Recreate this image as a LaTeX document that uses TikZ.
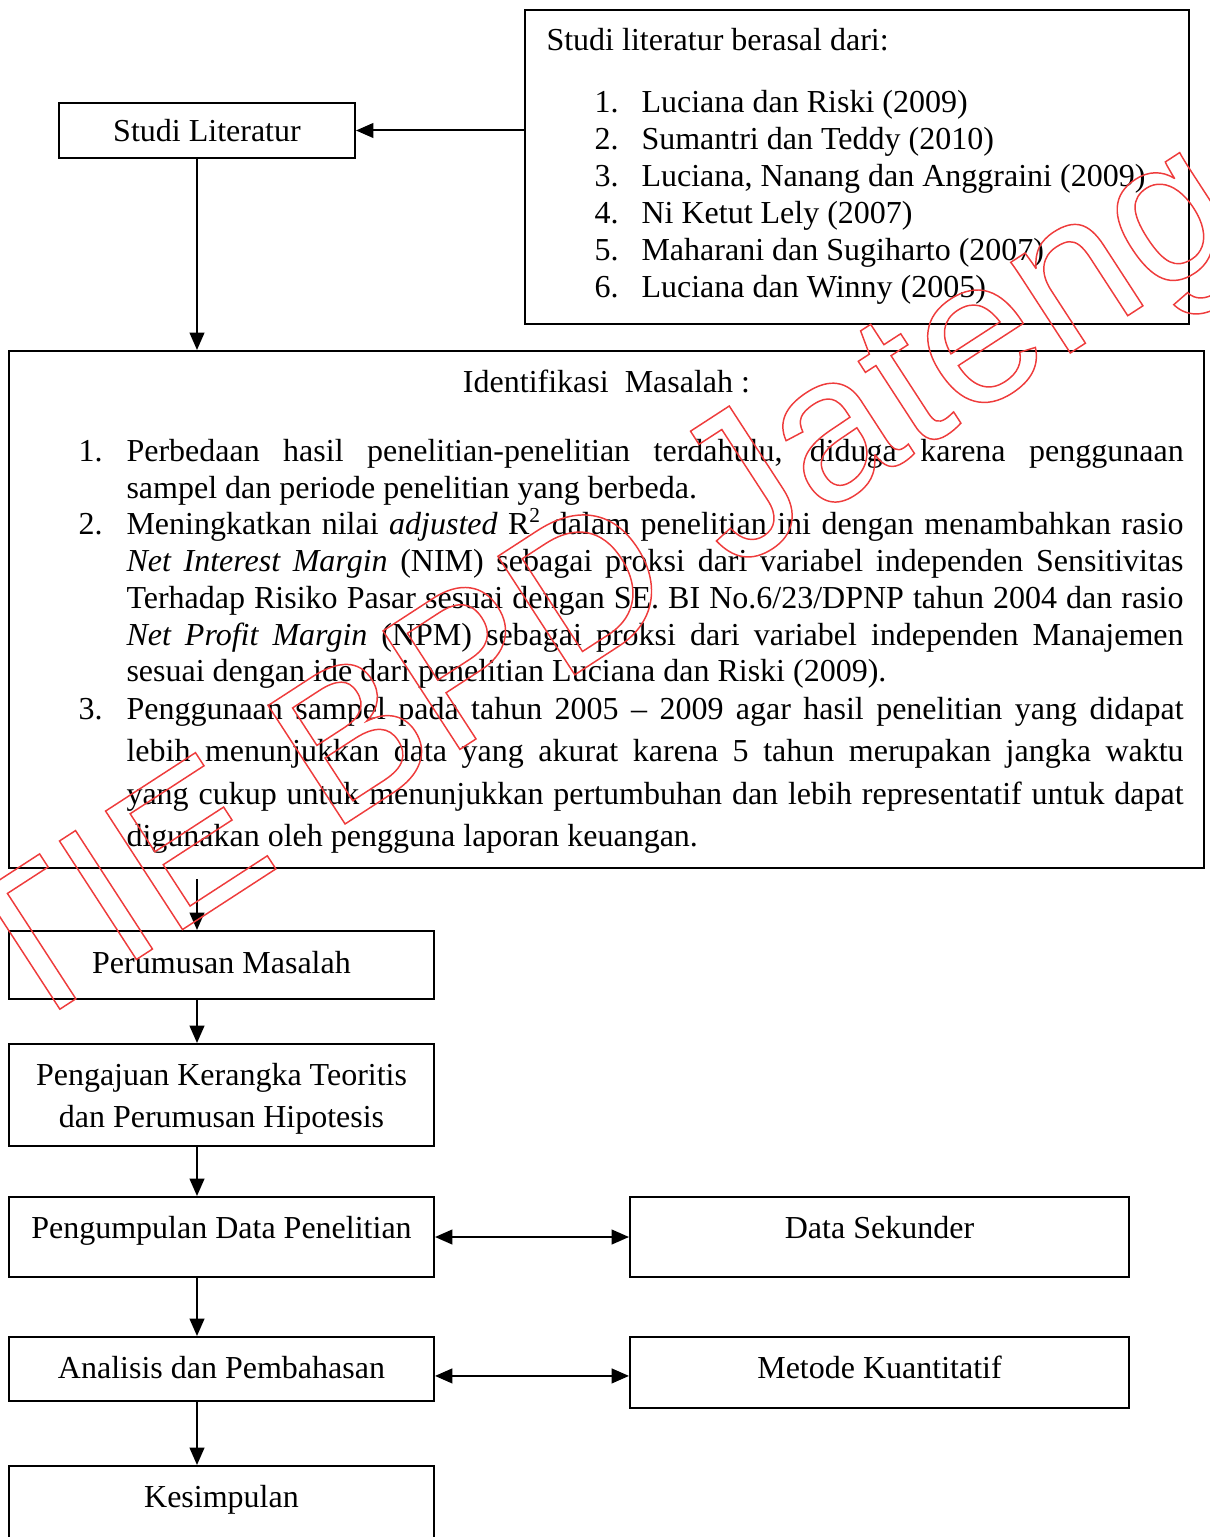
\documentclass[tikz,border=0pt]{standalone}
\usepackage{fontspec}
\setmainfont{Liberation Serif}
\newfontfamily\wmfont{Liberation Sans}
\usetikzlibrary{arrows.meta,fit}
\definecolor{wmred}{RGB}{238,60,60}
\newcommand\wmoutline[1]{\special{pdf:literal direct 1 Tr 0.55 w}#1\special{pdf:literal direct 0 Tr}}
\begin{document}
\begin{tikzpicture}[x=0.375pt,y=-0.375pt,
  font=\fontsize{12pt}{13.8pt}\selectfont,
  box/.style={draw, line width=0.75pt, inner sep=0pt},
  txt/.style={inner sep=0pt, anchor=base},
  txtw/.style={inner sep=0pt, anchor=base west},
  arr/.style={line width=0.75pt, -{Triangle[length=6.5pt,width=5.5pt]}},
  darr/.style={line width=0.75pt, {Triangle[length=6.5pt,width=5.5pt]}-{Triangle[length=6.5pt,width=5.5pt]}}]
\useasboundingbox (0,0) rectangle (1210,1537);

% boxes
\node[box, fit={(59,103) (355,158)}] (sl) {};
\node[box, fit={(525,10) (1189,324)}] (lit) {};
\node[box, fit={(9,351) (1204,868)}] (ident) {};
\node[box, fit={(9,931) (434,999)}] (pm) {};
\node[box, fit={(9,1044) (434,1146)}] (pk) {};
\node[box, fit={(9,1197) (434,1277)}] (pd) {};
\node[box, fit={(630,1197) (1129,1277)}] (ds) {};
\node[box, fit={(9,1337) (434,1401)}] (an) {};
\node[box, fit={(630,1337) (1129,1408)}] (mk) {};
\node[box, fit={(9,1466) (434,1560)}] (ks) {};

% texts
\node[txt] (slt) at (207,142) {Studi Literatur};
\node[txtw] (litt) at (546,51) {Studi literatur berasal dari:};
\node[txtw] (ln1) at (594,113) {1.}; \node[txtw] (lt1) at (641,113) {Luciana dan Riski (2009)};
\node[txtw] (ln2) at (594,150) {2.}; \node[txtw] (lt2) at (641,150) {Sumantri dan Teddy (2010)};
\node[txtw] (ln3) at (594,187) {3.}; \node[txtw] (lt3) at (641,187) {Luciana, Nanang dan Anggraini (2009)};
\node[txtw] (ln4) at (594,224) {4.}; \node[txtw] (lt4) at (641,224) {Ni Ketut Lely (2007)};
\node[txtw] (ln5) at (594,261) {5.}; \node[txtw] (lt5) at (641,261) {Maharani dan Sugiharto (2007)};
\node[txtw] (ln6) at (594,298) {6.}; \node[txtw] (lt6) at (641,298) {Luciana dan Winny (2005)};

\node[txt] (idt) at (606.5,392) {Identifikasi\ \ Masalah :};
\node[txtw] (in1) at (78,461) {1.};
\node[txtw] (i11) at (126,461) {\makebox[396.4pt][s]{Perbedaan hasil penelitian-penelitian terdahulu, diduga karena penggunaan}};
\node[txtw] (i12) at (126,498) {sampel dan periode penelitian yang berbeda.};
\node[txtw] (in2) at (78,534) {2.};
\node[txtw] (i21) at (126,534) {\makebox[396.4pt][s]{Meningkatkan nilai \textit{adjusted} R\textsuperscript{2} dalam penelitian ini dengan menambahkan rasio}};
\node[txtw] (i22) at (126,571) {\makebox[396.4pt][s]{\textit{Net Interest Margin} (NIM) sebagai proksi dari variabel independen Sensitivitas}};
\node[txtw] (i23) at (126,608) {\makebox[396.4pt][s]{Terhadap Risiko Pasar sesuai dengan SE. BI No.6/23/DPNP tahun 2004 dan rasio}};
\node[txtw] (i24) at (126,645) {\makebox[396.4pt][s]{\textit{Net Profit Margin} (NPM) sebagai proksi dari variabel independen Manajemen}};
\node[txtw] (i25) at (126,681) {sesuai dengan ide dari penelitian Luciana dan Riski (2009).};
\node[txtw] (in3) at (78,719) {3.};
\node[txtw] (i31) at (126,719) {\makebox[396.4pt][s]{Penggunaan sampel pada tahun 2005 – 2009 agar hasil penelitian yang didapat}};
\node[txtw] (i32) at (126,761) {\makebox[396.4pt][s]{lebih menunjukkan data yang akurat karena 5 tahun merupakan jangka waktu}};
\node[txtw] (i33) at (126,804) {\makebox[396.4pt][s]{yang cukup untuk menunjukkan pertumbuhan dan lebih representatif untuk dapat}};
\node[txtw] (i34) at (126,846) {digunakan oleh pengguna laporan keuangan.};

\node[txt] (pmt) at (221.5,973) {Perumusan Masalah};
\node[txt] (pkt1) at (221.5,1085) {Pengajuan Kerangka Teoritis};
\node[txt] (pkt2) at (221.5,1127) {dan Perumusan Hipotesis};
\node[txt] (pdt) at (221.5,1238) {Pengumpulan Data Penelitian};
\node[txt] (dst) at (879.5,1238) {Data Sekunder};
\node[txt] (ant) at (221.5,1378) {Analisis dan Pembahasan};
\node[txt] (mkt) at (879.5,1378) {Metode Kuantitatif};
\node[txt] (kst) at (221.5,1507) {Kesimpulan};

% connectors
\coordinate (ax) at (197,0);
\coordinate (iout) at (197,879);
\coordinate (arow) at ([yshift=-2.6pt]an.east);
\draw[arr] (lit.west |- sl.east) -- (sl.east);
\draw[arr] (sl.south -| ax) -- (ident.north -| ax);
\draw[arr] (iout) -- (pm.north -| ax);
\draw[arr] (pm.south -| ax) -- (pk.north -| ax);
\draw[arr] (pk.south -| ax) -- (pd.north -| ax);
\draw[arr] (pd.south -| ax) -- (an.north -| ax);
\draw[arr] (an.south -| ax) -- (ks.north -| ax);
\draw[darr] (pd.east |- ds.west) -- (ds.west);
\draw[darr] (arow) -- (arow -| mk.west);

% watermark
\node[anchor=base west, inner sep=0pt, rotate=33, text=wmred,
  font=\wmfont\fontsize{77pt}{77pt}\selectfont] (wm) at (-100,1113) {\wmoutline{STIE BPD Jateng}};
\end{tikzpicture}
\end{document}
